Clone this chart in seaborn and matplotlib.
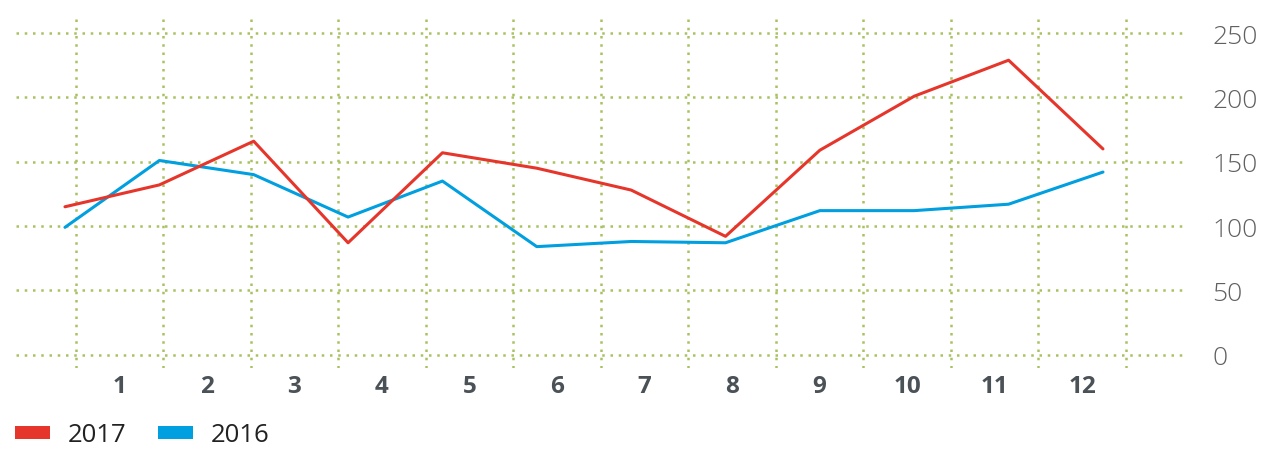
import numpy as np
import pandas as pd
import matplotlib
matplotlib.use('Agg')
import matplotlib.pyplot as plt
import seaborn as sns
from matplotlib.patches import Patch

# data
months = [1, 2, 3, 4, 5, 6, 7, 8, 9, 10, 11, 12]
sales_2017 = [115, 132, 166, 87, 157, 145, 128, 92, 159, 201, 229, 160]
sales_2016 = [99, 151, 140, 107, 135, 84, 88, 87, 112, 112, 117, 142]
y_ticks = [0, 50, 100, 150, 200, 250]

RED = '#e6362b'
BLUE = '#009fe0'
GRID = '#a8c262'

sns.set_theme(style='white')
plt.rcParams['font.family'] = ['Open Sans', 'DejaVu Sans']

df = pd.DataFrame({
    'month': months * 2,
    'value': sales_2017 + sales_2016,
    'year': ['2017'] * 12 + ['2016'] * 12,
})

fig = plt.figure(figsize=(12.61, 4.52), dpi=100)
W, H = 1261, 452
ax = fig.add_axes([16 / W, (H - 369) / H, (1186 - 16) / W, (369 - 18) / H])

# category axis (labels centred in bands, grid on band edges)
ax.set_xlim(-0.18, 13.186)
ax.set_ylim(-10.4, 262.6)
ax.set_xticks(months)
ax.set_xticklabels([str(m) for m in months], fontsize=17.5, fontweight='bold', color='#4a5157')
ax.set_xticks(np.arange(0.5, 13, 1), minor=True)
ax.set_yticks(y_ticks)
ax.set_yticklabels([str(v) for v in y_ticks], fontsize=19, fontweight='light', color='#606060')
ax.yaxis.tick_right()
ax.tick_params(axis='both', which='both', length=0)
ax.tick_params(axis='x', pad=4.5)
ax.tick_params(axis='y', pad=19)
ax.grid(False)
ax.grid(True, axis='x', which='minor', linestyle=(0, (1, 2.3)), linewidth=1.8, color=GRID)
ax.grid(True, axis='y', which='major', linestyle=(0, (1, 2.3)), linewidth=1.8, color=GRID)
for s in ax.spines.values():
    s.set_visible(False)

# the lines sit on their own evenly spaced scale
ax2 = ax.twiny()
ax2.set_xlim(0.481, 12.88)
sns.lineplot(data=df, x='month', y='value', hue='year', palette={'2017': RED, '2016': BLUE},
             hue_order=['2016', '2017'], linewidth=2.2, ax=ax2, legend=False)
ax2.set_ylim(-10.4, 262.6)
ax2.set_xticks([])
ax2.set_xlabel('')
ax2.set_ylabel('')
ax.set_xlabel('')
ax.set_ylabel('')
for s in ax2.spines.values():
    s.set_visible(False)

handles = [Patch(facecolor=RED, linewidth=0, label='2017'),
           Patch(facecolor=BLUE, linewidth=0, label='2016')]
fig.legend(handles=handles, loc='center left', bbox_to_anchor=(15 / W, 1 - 436 / H),
           ncol=2, frameon=False, fontsize=18.5, handlelength=1.35, handleheight=0.4,
           handletextpad=0.7, columnspacing=1.25, borderpad=0, borderaxespad=0,
           labelcolor='#222222')

fig.savefig('out.png', dpi=100)
